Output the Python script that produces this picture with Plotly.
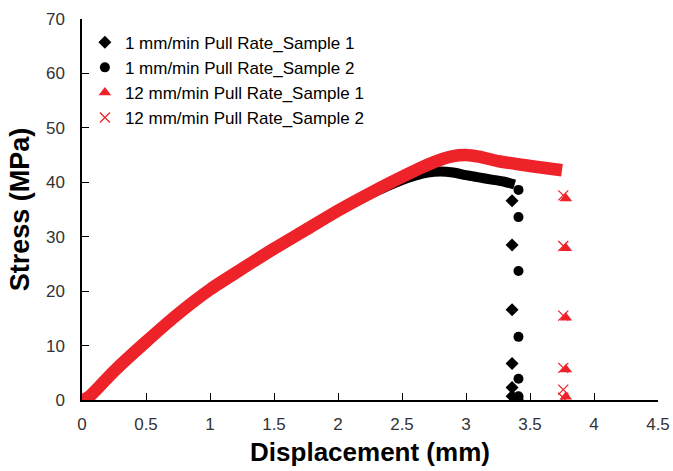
import plotly.graph_objects as go

# ---- data ----
red_curve_x = [0, 0.05, 0.25, 0.5, 0.75, 1.0, 1.25, 1.5, 1.75, 2.0, 2.25, 2.5, 2.75, 2.9, 3.0, 3.1, 3.25, 3.5, 3.75]
red_curve_y = [0, 0.5, 5.3, 10.7, 15.8, 20.3, 24.1, 27.8, 31.3, 34.8, 38.0, 41.0, 43.7, 44.8, 45.0, 44.7, 43.9, 43.0, 42.2]

blk_curve_x = [0, 0.05, 0.25, 0.5, 0.75, 1.0, 1.25, 1.5, 1.75, 2.0, 2.25, 2.5, 2.6, 2.7, 2.8, 2.9, 3.0, 3.1, 3.2, 3.3, 3.38]
blk_curve_y = [0, 0.5, 5.3, 10.7, 15.8, 20.3, 24.1, 27.8, 31.3, 34.7, 37.8, 40.4, 41.2, 41.8, 42.0, 41.8, 41.3, 40.9, 40.5, 40.1, 39.6]

s1_drop_x = [3.36, 3.36, 3.36, 3.36, 3.36, 3.36]
s1_drop_y = [36.6, 28.5, 16.6, 6.7, 2.3, 0.7]
s2_drop_x = [3.41, 3.41, 3.41, 3.41, 3.41, 3.41, 3.41]
s2_drop_y = [38.6, 33.6, 23.7, 11.6, 3.9, 0.7, 0.2]
r1_drop_x = [3.78, 3.78, 3.78, 3.78, 3.78]
r1_drop_y = [37.0, 27.9, 15.1, 5.6, 0.6]
r2_drop_x = [3.76, 3.76, 3.76, 3.76, 3.76, 3.76]
r2_drop_y = [37.6, 28.3, 15.5, 5.9, 1.9, 0.4]

names = ["1 mm/min Pull Rate_Sample 1", "1 mm/min Pull Rate_Sample 2",
         "12 mm/min Pull Rate_Sample 1", "12 mm/min Pull Rate_Sample 2"]

x_ticks = [0, 0.5, 1, 1.5, 2, 2.5, 3, 3.5, 4, 4.5]
y_ticks = [0, 10, 20, 30, 40, 50, 60, 70]

RED = "#ee2229"
BLK = "#000000"
FONT = "Liberation Sans, Arial"

fig = go.Figure()

# black band (both 1 mm/min samples overlap)
fig.add_trace(go.Scatter(x=blk_curve_x, y=blk_curve_y, mode="lines",
                         line=dict(color=BLK, width=10, shape="spline", smoothing=0.8),
                         showlegend=False, hoverinfo="skip"))
fig.add_trace(go.Scatter(x=s1_drop_x, y=s1_drop_y, mode="markers", name=names[0], legendgroup="a",
                         marker=dict(symbol="diamond", size=10, color=BLK)))
fig.add_trace(go.Scatter(x=s2_drop_x, y=s2_drop_y, mode="markers", name=names[1], legendgroup="b",
                         marker=dict(symbol="circle", size=10, color=BLK)))
# red band
fig.add_trace(go.Scatter(x=red_curve_x, y=red_curve_y, mode="lines",
                         line=dict(color=RED, width=12.5, shape="spline", smoothing=0.8),
                         showlegend=False, hoverinfo="skip"))
fig.add_trace(go.Scatter(x=r1_drop_x, y=r1_drop_y, mode="markers", name=names[2], legendgroup="c",
                         marker=dict(symbol="triangle-up", size=11, color=RED)))
fig.add_trace(go.Scatter(x=r2_drop_x, y=r2_drop_y, mode="markers", name=names[3], legendgroup="d",
                         marker=dict(symbol="x-thin", size=10, line=dict(color=RED, width=1.3), color=RED)))

axis_common = dict(showline=True, linecolor="black", linewidth=1.5, ticks="inside", ticklen=7,
                   tickcolor="black", tickwidth=1.3, showgrid=False, zeroline=False, automargin=False,
                   tickfont=dict(family=FONT, size=17, color="#333333"))

fig.update_layout(
    width=673, height=471,
    margin=dict(l=82, r=15, t=19, b=71),
    paper_bgcolor="white", plot_bgcolor="white",
    font=dict(family=FONT, color="black"),
    xaxis=dict(range=[0, 4.5], tickvals=x_ticks, ticktext=[str(v) for v in x_ticks],
               ticklabelstandoff=8,
               title=dict(text="<b>Displacement (mm)</b>", font=dict(size=26, color="black"), standoff=10),
               **axis_common),
    yaxis=dict(range=[0, 70], tickvals=y_ticks, ticktext=[str(v) for v in y_ticks],
               ticklabelstandoff=12,
               title=dict(text="<b>Stress (MPa)</b>", font=dict(size=27, color="black"), standoff=8),
               **axis_common),
    legend=dict(x=0.005, y=0.985, xanchor="left", yanchor="top", bgcolor="rgba(0,0,0,0)",
                font=dict(family=FONT, size=17, color="black"),
                tracegroupgap=0, itemwidth=30),
    showlegend=True,
)

fig.write_html("out.html")
